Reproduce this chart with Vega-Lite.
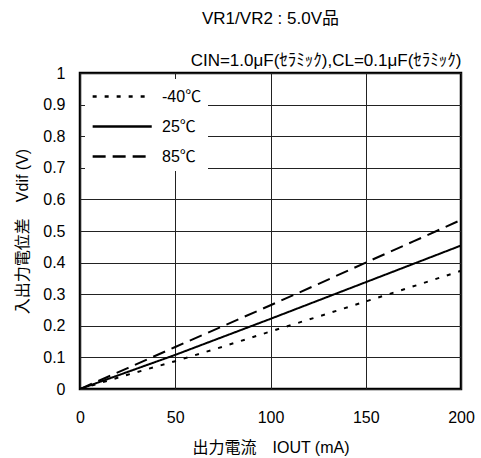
{
  "$schema": "https://vega.github.io/schema/vega-lite/v6.json",
  "autosize": {"type": "none"},
  "padding": {"left": 80, "top": 73, "right": 20, "bottom": 69},
  "width": 381,
  "height": 316,
  "background": "white",
  "config": {
    "font": "Liberation Sans, Noto Sans CJK JP",
    "view": {"stroke": "black", "strokeWidth": 2.5},
    "axis": {"labelFont": "Liberation Sans", "labelColor": "black", "titleColor": "black", "titleFontWeight": "normal", "labelFontSize": 16, "titleFontSize": 16, "labelOverlap": false, "labelFlush": false}
  },
  "title": {"text": "VR1/VR2 : 5.0V品", "anchor": "middle", "fontSize": 17, "fontWeight": "normal", "color": "black", "offset": 23, "font": "Liberation Sans, Noto Sans CJK JP"},
  "data": {"values": [
    {"iout": 0, "temp": "-40℃", "vdif": 0},
    {"iout": 25, "temp": "-40℃", "vdif": 0.045},
    {"iout": 50, "temp": "-40℃", "vdif": 0.088},
    {"iout": 75, "temp": "-40℃", "vdif": 0.134},
    {"iout": 100, "temp": "-40℃", "vdif": 0.182},
    {"iout": 125, "temp": "-40℃", "vdif": 0.229},
    {"iout": 150, "temp": "-40℃", "vdif": 0.277},
    {"iout": 175, "temp": "-40℃", "vdif": 0.325},
    {"iout": 200, "temp": "-40℃", "vdif": 0.374},
    {"iout": 0, "temp": "25℃", "vdif": 0},
    {"iout": 25, "temp": "25℃", "vdif": 0.054},
    {"iout": 50, "temp": "25℃", "vdif": 0.108},
    {"iout": 75, "temp": "25℃", "vdif": 0.165},
    {"iout": 100, "temp": "25℃", "vdif": 0.222},
    {"iout": 125, "temp": "25℃", "vdif": 0.28},
    {"iout": 150, "temp": "25℃", "vdif": 0.338},
    {"iout": 175, "temp": "25℃", "vdif": 0.396},
    {"iout": 200, "temp": "25℃", "vdif": 0.454},
    {"iout": 0, "temp": "85℃", "vdif": 0},
    {"iout": 25, "temp": "85℃", "vdif": 0.066},
    {"iout": 50, "temp": "85℃", "vdif": 0.133},
    {"iout": 75, "temp": "85℃", "vdif": 0.199},
    {"iout": 100, "temp": "85℃", "vdif": 0.265},
    {"iout": 125, "temp": "85℃", "vdif": 0.332},
    {"iout": 150, "temp": "85℃", "vdif": 0.4},
    {"iout": 175, "temp": "85℃", "vdif": 0.467},
    {"iout": 200, "temp": "85℃", "vdif": 0.535}
  ]},
  "layer": [
    {
      "mark": {"type": "line", "color": "black", "strokeWidth": 2, "clip": true},
      "encoding": {
        "x": {"field": "iout", "type": "quantitative", "scale": {"domain": [0, 200], "nice": false},
          "axis": {"orient": "bottom", "values": [0, 50, 100, 150, 200], "title": "出力電流　IOUT (mA)", "ticks": false, "domain": false, "grid": true, "gridColor": "#222", "gridWidth": 1, "labelPadding": 20, "titlePadding": 14}},
        "y": {"field": "vdif", "type": "quantitative", "scale": {"domain": [0, 1], "nice": false},
          "axis": {"values": [0, 0.1, 0.2, 0.3, 0.4, 0.5, 0.6, 0.7, 0.8, 0.9, 1], "format": ".1~f", "title": "入出力電位差　Vdif (V)", "ticks": false, "domain": false, "grid": true, "gridColor": "#222", "gridWidth": 1, "labelPadding": 15, "titlePadding": 12}},
        "strokeDash": {"field": "temp", "type": "nominal", "sort": ["-40℃", "25℃", "85℃"],
          "scale": {"domain": ["-40℃", "25℃", "85℃"], "range": [[4, 8], [1, 0], [13, 7]]},
          "legend": {"orient": "none", "legendX": 5, "legendY": 6, "title": null, "fillColor": "white", "padding": 6, "symbolType": "M-1,0H5", "symbolSize": 388, "symbolStrokeWidth": 2.5, "symbolStrokeColor": "black", "symbolFillColor": "transparent", "labelFontSize": 16, "labelFont": "Liberation Sans, Noto Sans CJK JP", "labelColor": "black", "labelOffset": 48, "rowPadding": 10}}
      }
    },
    {
      "mark": {"type": "line", "opacity": 0},
      "encoding": {
        "x": {"field": "iout", "type": "quantitative", "scale": {"domain": [0, 200], "nice": false},
          "axis": {"orient": "top", "title": "CIN=1.0μF(ｾﾗﾐｯｸ),CL=0.1μF(ｾﾗﾐｯｸ)", "labels": false, "ticks": false, "domain": false, "grid": false, "titleAnchor": "end", "titlePadding": 4, "titleFontSize": 17}},
        "y": {"field": "vdif", "type": "quantitative", "axis": null}
      }
    }
  ],
  "resolve": {"axis": {"x": "independent", "y": "independent"}}
}
